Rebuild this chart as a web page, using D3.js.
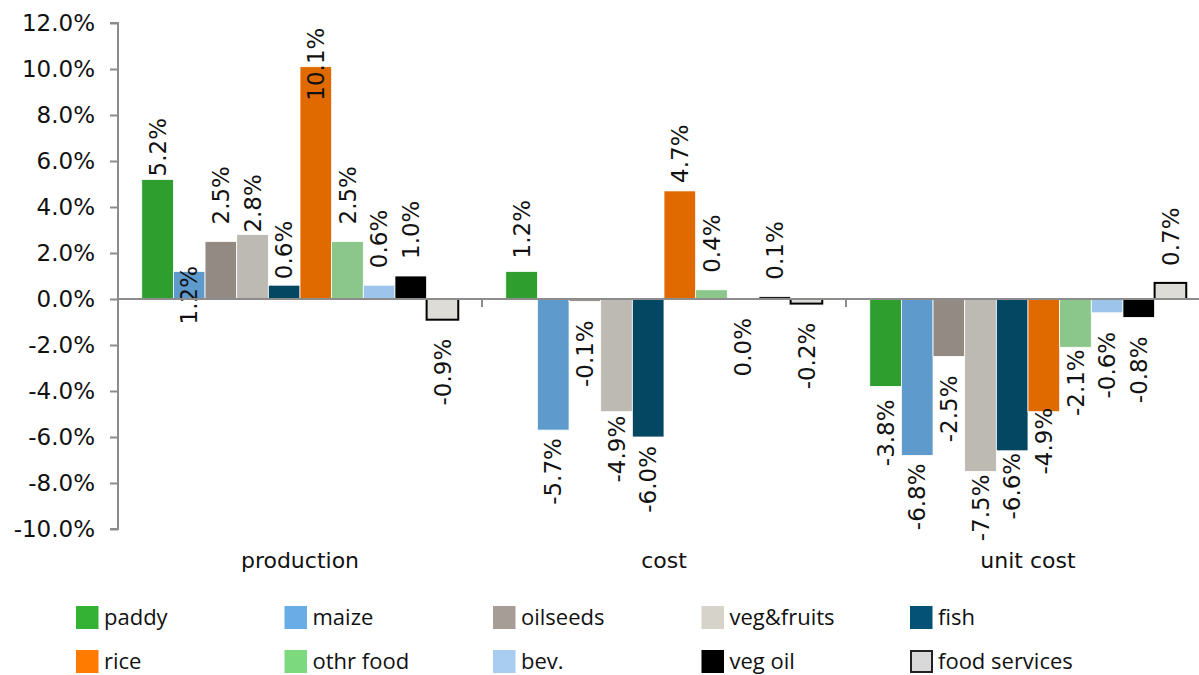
<!DOCTYPE html>
<html>
<head>
<meta charset="utf-8">
<script src="https://cdn.jsdelivr.net/npm/d3@7"></script>
<style>
  html, body { margin: 0; padding: 0; background: #ffffff; }
  svg { display: block; }
</style>
</head>
<body>
<svg id="chart" width="1199" height="675"></svg>
<script>
// Categories along the x axis
const categories = ["production", "cost", "unit cost"];

// Series names (legend order)
const seriesNames = ["paddy", "maize", "oilseeds", "veg&fruits", "fish",
                     "rice", "othr food", "bev.", "veg oil", "food services"];

// Percentage change per series: production, cost, unit cost
const paddy        = [5.2, 1.2, -3.8];
const maize        = [1.2, -5.7, -6.8];
const oilseeds     = [2.5, -0.1, -2.5];
const vegFruits    = [2.8, -4.9, -7.5];
const fish         = [0.6, -6.0, -6.6];
const rice         = [10.1, 4.7, -4.9];
const othrFood     = [2.5, 0.4, -2.1];
const bev          = [0.6, 0.0, -0.6];
const vegOil       = [1.0, 0.1, -0.8];
const foodServices = [-0.9, -0.2, 0.7];

const seriesValues = [paddy, maize, oilseeds, vegFruits, fish,
                      rice, othrFood, bev, vegOil, foodServices];

// Y axis ticks (percent)
const yTicks = [12, 10, 8, 6, 4, 2, 0, -2, -4, -6, -8, -10];

// Styling
const barColors = ["#2e9e2e", "#5e9acb", "#938a84", "#bdbab3", "#034763",
                   "#e06a00", "#8bc78b", "#9dc4ea", "#000000", "#dedcd7"];
const legendColors = ["#33b233", "#6aace6", "#a69d97", "#d6d3cb", "#045275",
                      "#ff7b00", "#7dd97d", "#a8cdf0", "#000000", "#d9d9d9"];

// Vertical nudges (px) applied to individual value labels, per category then series
const labelNudge = [
  [14, 70, 0, 15, 11, 51, 0, 0, 0, 0],
  [4, -11, 0, -15, -10, 9, 0, 0, 0, 0],
  [-6, -11, 0, -16, -17, -23, -17, 0, 0, 0]
];

const svg = d3.select("#chart");
const plotLeft = 118, plotRight = 1210, plotTop = 23, plotBottom = 529;

const y = d3.scaleLinear().domain([-10, 12]).range([plotBottom, plotTop]);
const x0 = d3.scaleBand().domain(categories).range([plotLeft, plotRight]).paddingInner(0).paddingOuter(0);
const x1 = d3.scaleBand().domain(seriesNames).range([0, x0.bandwidth()]).paddingInner(0).paddingOuter(0.75);

const axisColor = "#8c8c8c";
const labelFont = "'DejaVu Sans', Verdana, sans-serif";

const cellData = (c, ci) => seriesNames.map((s, si) => ({ s, si, ci, v: seriesValues[si][ci] }));

// Bars
const groups = svg.append("g").selectAll("g")
  .data(categories)
  .join("g")
  .attr("transform", d => `translate(${x0(d)},0)`);

groups.selectAll("rect")
  .data(cellData)
  .join("rect")
  .attr("x", d => x1(d.s))
  .attr("width", x1.bandwidth())
  .attr("y", d => y(Math.max(0, d.v)))
  .attr("height", d => Math.abs(y(d.v) - y(0)))
  .attr("fill", d => barColors[d.si])
  .attr("stroke", d => d.si === 9 ? "#000000" : "#ffffff")
  .attr("stroke-width", d => d.si === 9 ? 2 : 0.8);

// Y axis
const yAxis = d3.axisLeft(y).tickValues(yTicks).tickSize(8).tickPadding(15)
  .tickFormat(d => d.toFixed(1) + "%");
const gy = svg.append("g").attr("transform", `translate(${plotLeft},0)`).call(yAxis);
gy.select(".domain").attr("stroke", axisColor).attr("stroke-width", 2)
  .attr("d", `M-8,${plotTop}H0V${plotBottom}H-8`);
gy.selectAll(".tick line").attr("stroke", axisColor).attr("stroke-width", 2);
gy.selectAll(".tick text").attr("font-family", labelFont).attr("font-size", 23).attr("fill", "#111");

// X axis along zero
const gx = svg.append("g").attr("transform", `translate(0,${y(0)})`);
gx.append("line").attr("x1", plotLeft).attr("x2", plotRight).attr("y1", 0).attr("y2", 0)
  .attr("stroke", axisColor).attr("stroke-width", 2);
gx.selectAll("line.tick")
  .data(categories.slice(1))
  .join("line")
  .attr("class", "tick")
  .attr("x1", d => x0(d)).attr("x2", d => x0(d))
  .attr("y1", 0).attr("y2", 8)
  .attr("stroke", axisColor).attr("stroke-width", 2);

// Category labels
svg.append("g").selectAll("text")
  .data(categories)
  .join("text")
  .attr("x", d => x0(d) + x0.bandwidth() / 2)
  .attr("y", 568)
  .attr("text-anchor", "middle")
  .attr("font-family", labelFont)
  .attr("font-size", 22)
  .attr("fill", "#111")
  .text(d => d);

// Value labels, rotated
groups.selectAll("g.lbl")
  .data(cellData)
  .join("g")
  .attr("class", "lbl")
  .attr("transform", d => {
    const cx = x1(d.s) + x1.bandwidth() / 2;
    const nudge = labelNudge[d.ci][d.si];
    const yy = d.v > 0 ? y(d.v) - 17 + nudge : y(d.v) + 19 + nudge;
    return `translate(${cx},${yy}) rotate(-90)`;
  })
  .append("text")
  .attr("text-anchor", d => d.v > 0 ? "start" : "end")
  .attr("dy", "0.36em")
  .attr("font-family", labelFont)
  .attr("font-size", 23)
  .attr("fill", "#111")
  .text(d => d.v.toFixed(1) + "%");

// Legend
const legend = svg.append("g");
const legendItems = legend.selectAll("g")
  .data(seriesNames)
  .join("g")
  .attr("transform", (d, i) => `translate(${76 + (i % 5) * 208.5},${606 + Math.floor(i / 5) * 44})`);

legendItems.append("rect")
  .attr("width", (d, i) => i === 9 ? 21 : 22.5)
  .attr("height", (d, i) => i === 9 ? 21 : 23)
  .attr("x", (d, i) => i === 9 ? 1 : 0)
  .attr("y", (d, i) => i === 9 ? 1 : 0)
  .attr("fill", (d, i) => legendColors[i])
  .attr("stroke", (d, i) => i === 9 ? "#222" : "none")
  .attr("stroke-width", 2);

legendItems.append("text")
  .attr("x", 28)
  .attr("y", 11)
  .attr("dy", "0.36em")
  .attr("font-family", "'Open Sans', sans-serif")
  .attr("font-size", 22)
  .attr("fill", "#111")
  .text(d => d);
</script>
</body>
</html>
